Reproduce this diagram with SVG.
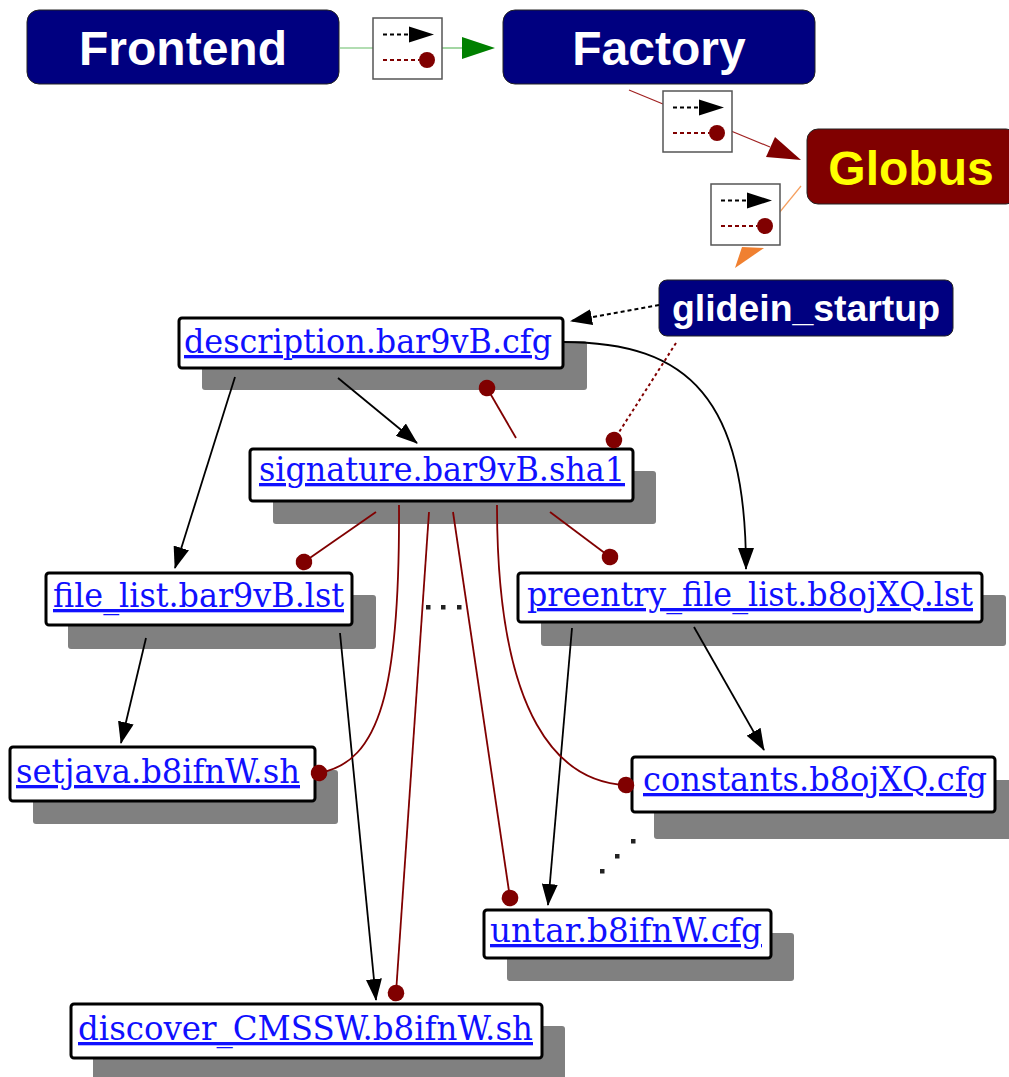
<svg xmlns="http://www.w3.org/2000/svg" width="1009" height="1077" viewBox="0 0 1009 1077">
<style>
.svc{font-family:"Liberation Sans",Arial,sans-serif;font-weight:bold;text-anchor:middle}
.file{font-family:"DejaVu Serif","Liberation Serif",serif;font-size:33px;fill:#1010ff;text-decoration:underline}
.main{fill:#ffffff;stroke:#000000;stroke-width:3}
.shadow{fill:#808080}
.blk{stroke:#000000;stroke-width:1.8;fill:none}
.red{stroke:#800000;stroke-width:1.8;fill:none}
.lg{fill:#ffffff;stroke:#555555;stroke-width:1.5}
</style>
<defs>
<marker id="arr" markerUnits="userSpaceOnUse" viewBox="0 0 22 16" markerWidth="22" markerHeight="16" refX="21" refY="8" orient="auto">
<path d="M0,0 L22,8 L0,16 z" fill="#000000"/>
</marker>
<marker id="dot" markerUnits="userSpaceOnUse" viewBox="0 0 18 18" markerWidth="18" markerHeight="18" refX="9" refY="9" orient="auto">
<circle cx="9" cy="9" r="8.3" fill="#800000"/>
</marker>
<g id="legend">
<rect class="lg" x="0" y="0" width="69" height="61"/>
<line x1="10" y1="16.5" x2="38" y2="16.5" stroke="#000000" stroke-width="2.2" stroke-dasharray="4,3"/>
<path d="M36,8.5 L61,16.5 L36,24.5 z" fill="#000000"/>
<line x1="10" y1="42" x2="46" y2="42" stroke="#800000" stroke-width="2.2" stroke-dasharray="4,3"/>
<circle cx="54" cy="42" r="8" fill="#800000"/>
</g>
</defs>
<rect width="1009" height="1077" fill="#ffffff"/>

<g id="top-connectors">
<line x1="340" y1="48" x2="373" y2="48" stroke="#66bb66" stroke-width="1.2"/>
<line x1="442" y1="48" x2="464" y2="48" stroke="#66bb66" stroke-width="1.2"/>
<path d="M462,37 L495,48 L462,59 z" fill="#008000"/>
<line x1="629" y1="90" x2="663" y2="104" stroke="#a02020" stroke-width="1.2"/>
<line x1="731" y1="131" x2="770" y2="147" stroke="#a02020" stroke-width="1.2"/>
<path d="M775,137 L801,160 L766,157 z" fill="#800000"/>
<line x1="801" y1="186" x2="779" y2="213" stroke="#f5a060" stroke-width="1.2"/>
<path d="M742,247 L764,248 L735,268 z" fill="#f08030"/>
</g>

<g id="frontend">
<rect x="27" y="10" width="312" height="74" rx="12" fill="#000080" stroke="#222222" stroke-width="1"/>
<text class="svc" x="183" y="65" font-size="48" fill="#ffffff">Frontend</text>
</g>
<g id="factory">
<rect x="503" y="10" width="312" height="74" rx="12" fill="#000080" stroke="#222222" stroke-width="1"/>
<text class="svc" x="659" y="65" font-size="48" fill="#ffffff">Factory</text>
</g>
<g id="globus">
<rect x="807" y="129" width="210" height="75" rx="11" fill="#800000" stroke="#222222" stroke-width="1"/>
<text class="svc" x="911" y="185" font-size="48" fill="#ffff00">Globus</text>
</g>
<g id="legend1"><use href="#legend" x="373" y="18"/></g>
<g id="legend2"><use href="#legend" x="663" y="91"/></g>
<g id="legend3"><use href="#legend" x="711" y="184"/></g>
<g id="glidein_startup">
<rect x="659" y="280" width="294" height="56" rx="8" fill="#000080" stroke="#222222" stroke-width="1"/>
<text class="svc" x="806" y="321" font-size="36" fill="#ffffff" textLength="268" lengthAdjust="spacingAndGlyphs">glidein_startup</text>
</g>

<g id="description">
<rect class="shadow" x="202" y="341" width="385" height="49" rx="3"/>
<rect class="main" x="179" y="318" width="384" height="50" rx="3"/>
<text class="file" x="184" y="353" textLength="368" lengthAdjust="spacingAndGlyphs">description.bar9vB.cfg</text>
</g>
<g id="signature">
<rect class="shadow" x="273" y="471" width="383" height="53" rx="3"/>
<rect class="main" x="250" y="449" width="383" height="52" rx="3"/>
<text class="file" x="259" y="481" textLength="366" lengthAdjust="spacingAndGlyphs">signature.bar9vB.sha1</text>
</g>
<g id="file_list">
<rect class="shadow" x="68" y="595" width="308" height="54" rx="3"/>
<rect class="main" x="46" y="573" width="306" height="52" rx="3"/>
<text class="file" x="53" y="607" textLength="291" lengthAdjust="spacingAndGlyphs">file_list.bar9vB.lst</text>
</g>
<g id="preentry_file_list">
<rect class="shadow" x="541" y="595" width="465" height="51" rx="3"/>
<rect class="main" x="518" y="573" width="464" height="49" rx="3"/>
<text class="file" x="527" y="606" textLength="446" lengthAdjust="spacingAndGlyphs">preentry_file_list.b8ojXQ.lst</text>
</g>
<g id="setjava">
<rect class="shadow" x="33" y="770" width="305" height="54" rx="3"/>
<rect class="main" x="10" y="747" width="305" height="54" rx="3"/>
<text class="file" x="16" y="783" textLength="284" lengthAdjust="spacingAndGlyphs">setjava.b8ifnW.sh</text>
</g>
<g id="constants">
<rect class="shadow" x="654" y="780" width="365" height="59" rx="3"/>
<rect class="main" x="632" y="757" width="363" height="55" rx="3"/>
<text class="file" x="643" y="791" textLength="344" lengthAdjust="spacingAndGlyphs">constants.b8ojXQ.cfg</text>
</g>
<g id="untar">
<rect class="shadow" x="507" y="933" width="287" height="48" rx="3"/>
<rect class="main" x="484" y="910" width="287" height="48" rx="3"/>
<text class="file" x="490" y="942" textLength="272" lengthAdjust="spacingAndGlyphs">untar.b8ifnW.cfg</text>
</g>
<g id="discover_CMSSW">
<rect class="shadow" x="93" y="1026" width="472" height="56" rx="3"/>
<rect class="main" x="71" y="1004" width="471" height="54" rx="3"/>
<text class="file" x="78" y="1040" textLength="455" lengthAdjust="spacingAndGlyphs">discover_CMSSW.b8ifnW.sh</text>
</g>

<g id="connectors">
<line x1="659" y1="305" x2="571" y2="321" stroke="#000000" stroke-width="2" stroke-dasharray="4,3" marker-end="url(#arr)"/>
<line x1="676" y1="343" x2="614" y2="440" stroke="#800000" stroke-width="2" stroke-dasharray="3,3" marker-end="url(#dot)"/>
<line class="blk" x1="338" y1="378" x2="417" y2="443" marker-end="url(#arr)"/>
<line class="blk" x1="235" y1="377" x2="175" y2="568" marker-end="url(#arr)"/>
<path class="blk" d="M563,342 C690,342 746,400 746,569" marker-end="url(#arr)"/>
<line class="blk" x1="146" y1="638" x2="121" y2="743" marker-end="url(#arr)"/>
<line class="blk" x1="340" y1="633" x2="376" y2="1000" marker-end="url(#arr)"/>
<line class="blk" x1="572" y1="628" x2="548" y2="905" marker-end="url(#arr)"/>
<line class="blk" x1="694" y1="627" x2="764" y2="750" marker-end="url(#arr)"/>
<line class="red" x1="516" y1="438" x2="487" y2="388" marker-end="url(#dot)"/>
<line class="red" x1="376" y1="512" x2="304" y2="562" marker-end="url(#dot)"/>
<line class="red" x1="550" y1="512" x2="610" y2="557" marker-end="url(#dot)"/>
<path class="red" d="M399,505 C400,690 380,762 319,773" marker-end="url(#dot)"/>
<line class="red" x1="429" y1="512" x2="396" y2="993" marker-end="url(#dot)"/>
<line class="red" x1="453" y1="512" x2="510" y2="898" marker-end="url(#dot)"/>
<path class="red" d="M497,505 C497,720 560,782 626,785" marker-end="url(#dot)"/>
</g>

<g id="ellipsis" fill="#222222">
<rect x="426" y="605" width="4.5" height="4.5"/>
<rect x="441" y="605" width="4.5" height="4.5"/>
<rect x="457" y="605" width="4.5" height="4.5"/>
<rect x="631" y="839" width="4.5" height="4.5"/>
<rect x="615" y="854" width="4.5" height="4.5"/>
<rect x="600" y="869" width="4.5" height="4.5"/>
</g>
</svg>
